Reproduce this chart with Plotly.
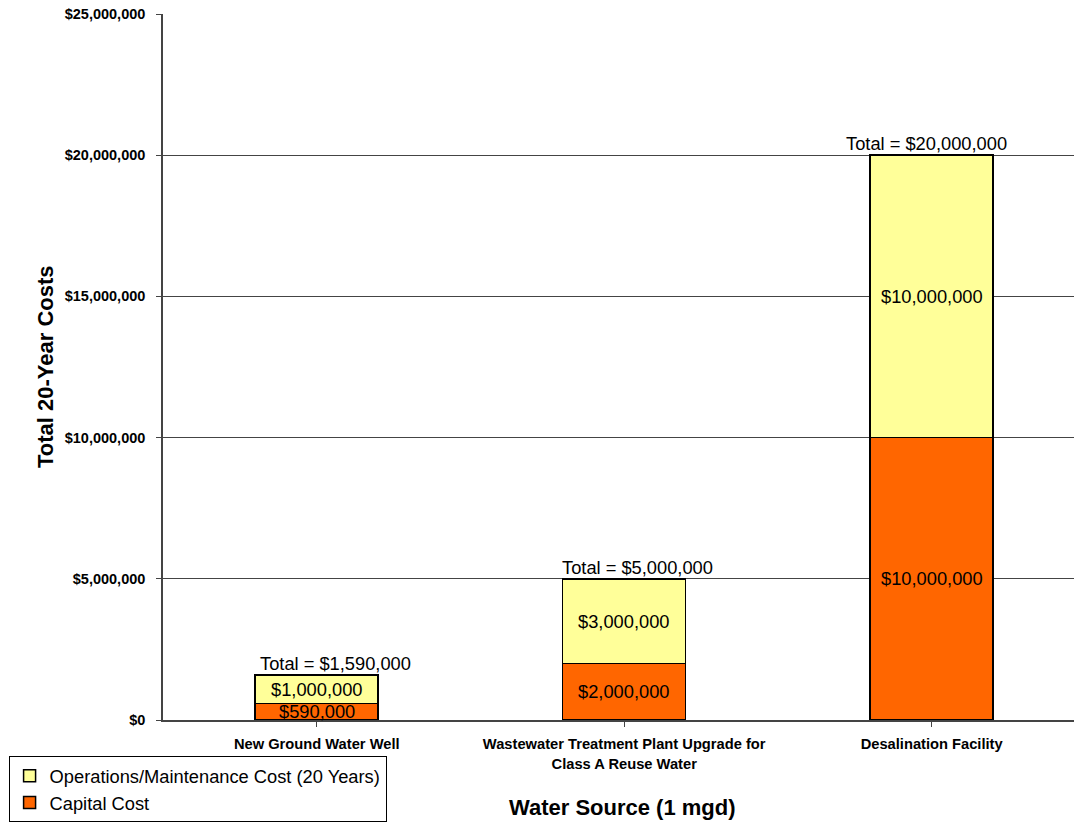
import plotly.graph_objects as go

# Cost data per water source (US dollars)
categories = [
    "New Ground Water Well",
    "Wastewater Treatment Plant Upgrade for<br>Class A Reuse Water",
    "Desalination Facility",
]
capital_cost = [590000, 2000000, 10000000]
om_cost = [1000000, 3000000, 10000000]
totals = [1590000, 5000000, 20000000]
y_ticks = [0, 5000000, 10000000, 15000000, 20000000, 25000000]

FONT = "Arial, Liberation Sans, sans-serif"
ORANGE = "#FF6600"
YELLOW = "#FFFF99"
LABEL_SIZE = 18.3

x_idx = list(range(len(categories)))


def money(v):
    return "${:,.0f}".format(v)


fig = go.Figure()
fig.add_trace(go.Bar(
    x=x_idx, y=capital_cost, name="Capital Cost", width=0.4,
    marker=dict(color=ORANGE, line=dict(color="black", width=1.5)),
    hoverinfo="skip",
))
fig.add_trace(go.Bar(
    x=x_idx, y=om_cost, name="Operations/Maintenance Cost (20 Years)", width=0.4,
    marker=dict(color=YELLOW, line=dict(color="black", width=1.5)),
    hoverinfo="skip",
))

annotations = []
# segment value labels, centred in each stacked segment
for i in x_idx:
    annotations.append(dict(
        x=i, y=capital_cost[i] / 2, xref="x", yref="y", text=money(capital_cost[i]),
        showarrow=False, font=dict(family=FONT, size=LABEL_SIZE, color="black"),
    ))
    annotations.append(dict(
        x=i, y=capital_cost[i] + om_cost[i] / 2, xref="x", yref="y", text=money(om_cost[i]),
        showarrow=False, font=dict(family=FONT, size=LABEL_SIZE, color="black"),
    ))

# total labels above each bar
total_shift = [19, 13, -5]
for i in x_idx:
    annotations.append(dict(
        x=i, y=totals[i], xref="x", yref="y", text="Total = " + money(totals[i]),
        showarrow=False, yanchor="bottom", xshift=total_shift[i], yshift=-1,
        font=dict(family=FONT, size=LABEL_SIZE, color="black"),
    ))

# axis titles
annotations.append(dict(
    x=-0.1295, y=0.5, xref="paper", yref="paper", text="<b>Total 20-Year Costs</b>",
    textangle=-90, showarrow=False, xanchor="center", yanchor="middle",
    font=dict(family=FONT, size=22, color="black"),
))
annotations.append(dict(
    x=0.504, y=-0.1246, xref="paper", yref="paper", text="<b>Water Source (1 mgd)</b>",
    showarrow=False, xanchor="center", yanchor="middle",
    font=dict(family=FONT, size=22, color="black"),
))

fig.update_layout(
    width=1074, height=822,
    margin=dict(l=162.5, r=0, t=14, b=102, autoexpand=False),
    paper_bgcolor="white", plot_bgcolor="white",
    barmode="stack",
    showlegend=True,
    legend=dict(
        x=-0.1695, y=-0.0515, xanchor="left", yanchor="top",
        bordercolor="black", borderwidth=1, bgcolor="white",
        font=dict(family=FONT, size=18.3, color="black"),
        traceorder="reversed", tracegroupgap=0, itemwidth=30,
    ),
    annotations=annotations,
    font=dict(family=FONT, color="black"),
)

fig.update_xaxes(
    range=[-0.5, 2.463], tickmode="array", tickvals=x_idx,
    ticktext=["<b>" + c + "</b>" for c in categories],
    tickfont=dict(family=FONT, size=14.7, color="black"),
    tickson="boundaries", ticks="outside", ticklen=5, tickcolor="#444",
    showline=True, linecolor="#444", linewidth=1.5, showgrid=False,
    ticklabelstandoff=5, zeroline=False, automargin=False,
)
fig.update_yaxes(
    range=[0, 25000000], tickmode="array", tickvals=y_ticks,
    ticktext=["<b>" + money(v) + "</b>" for v in y_ticks],
    tickfont=dict(family=FONT, size=14.5, color="black"),
    ticks="outside", ticklen=5, tickcolor="#444",
    showline=True, linecolor="#444", linewidth=1.5,
    showgrid=True, gridcolor="#444", gridwidth=1, zeroline=False,
    ticklabelstandoff=8, automargin=False,
)

fig.write_html("out.html")
